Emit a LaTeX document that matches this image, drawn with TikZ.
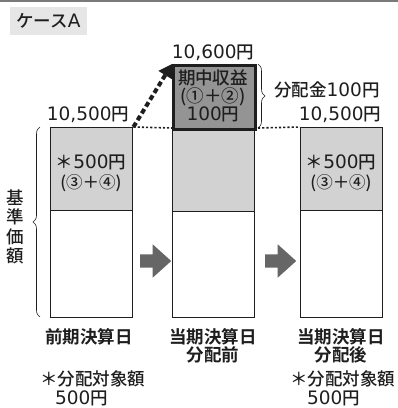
\documentclass[tikz,border=0pt]{standalone}
\usepackage{fontspec}
\setmainfont{Noto Sans CJK JP}[UprightFont=* Medium, BoldFont=* Bold]
\newfontfamily\numfont{DejaVu Sans}
\newcommand\dg[1]{{\numfont\fontsize{18.5}{18}\selectfont #1}}
\usetikzlibrary{arrows.meta,decorations.pathreplacing,shapes.arrows}
\definecolor{lightfill}{HTML}{D2D2D2}
\definecolor{darkfill}{HTML}{949494}
\definecolor{arrowgray}{HTML}{666666}
\definecolor{tagfill}{HTML}{E6E6E6}
\definecolor{rulegray}{HTML}{7A7A7A}
\definecolor{ink}{HTML}{1E1E1E}
\tikzset{
  colbox/.style={draw=ink, line width=1.4pt, minimum width=82pt, inner sep=0pt, anchor=north west},
  txt/.style={font=\fontsize{17.5}{18}\selectfont, text=ink, inner sep=0pt, align=center},
  smalltxt/.style={font=\fontsize{16.5}{18}\selectfont, text=ink, inner sep=0pt, align=center},
  boldtxt/.style={font=\fontsize{17.5}{18}\selectfont\bfseries, text=ink, inner sep=0pt, align=center},
  stepto/.style={single arrow, fill=arrowgray, draw=none, inner sep=6.5pt,
    minimum height=31pt, single arrow head extend=10pt, single arrow tip angle=84},
  dotline/.style={ink, line width=1.6pt, dash pattern=on 2.2pt off 2pt},
  bracebar/.style={ink, line width=0.6pt, decorate, decoration={brace, amplitude=7pt}},
}
\begin{document}
\begin{tikzpicture}[x=1pt, y=-1pt]
\useasboundingbox (0,0) rectangle (398,408);
\draw[rulegray, line width=1.5pt] (0,1) -- (398,1);
\node[txt, fill=tagfill, minimum width=77pt, minimum height=28pt] (tag) at (48.5,21) {ケース\dg{A}};
% columns
\node[colbox, fill=lightfill, minimum height=83pt] (prevTop) at (50,127) {};
\node[colbox, fill=white, minimum height=107pt] (prevBot) at (50,210) {};
\node[colbox, fill=lightfill, minimum height=83pt] (midTop) at (172,128) {};
\node[colbox, fill=white, minimum height=106pt] (midBot) at (172,211) {};
\node[colbox, fill=darkfill, line width=2.6pt, minimum height=64pt] (midInc) at (172,64) {};
\node[colbox, fill=lightfill, minimum height=83pt] (postTop) at (300,127) {};
\node[colbox, fill=white, minimum height=107pt] (postBot) at (300,210) {};
% values
\node[txt] (prevVal) at (88,115) {\dg{10,500}円};
\node[txt] (midVal) at (213,53) {\dg{10,600}円};
\node[txt] (postVal) at (340,115) {\dg{10,500}円};
\node[txt] (prevAmt) at (91,162) {＊\dg{500}円};
\node[smalltxt] (prevSum) at (91,183) {(③＋④)};
\node[txt] (postAmt) at (341,162) {＊\dg{500}円};
\node[smalltxt] (postSum) at (341,183) {(③＋④)};
\node[txt] (incText) at (213,96) {期中収益\\(①＋②)\\\dg{100}円};
% links
\coordinate (braceTop) at (258,64);
\coordinate (braceBot) at (258,128);
\draw[bracebar] (braceTop) -- (braceBot);
\node[txt, anchor=west] (payout) at (274,90) {分配金\dg{100}円};
\draw[dotline] (prevTop.north east) -- (midTop.north west);
\draw[dotline] (braceBot) -- (postTop.north west);
\draw[ink, line width=4pt, dash pattern=on 5pt off 3pt, -{Triangle[length=13pt, width=15pt]}]
  (prevTop.north east) -- (midInc.north west);
% base price
\coordinate (baseBot) at (40,317);
\coordinate (baseTop) at (40,127);
\draw[bracebar] (baseBot) -- (baseTop);
\node[txt, font=\fontsize{17.5}{19.3}\selectfont] (baseLbl) at (15,227) {基\\準\\価\\額};
% steps
\node[stepto] (stepA) at (152,261) {};
\node[stepto] (stepB) at (277,261) {};
% dates
\node[boldtxt] (prevDay) at (89,337) {前期決算日};
\node[boldtxt] (midDay) at (213,346) {当期決算日\\分配前};
\node[boldtxt] (postDay) at (341,346) {当期決算日\\分配後};
\node[txt, anchor=west] (prevNote) at (40,379) {＊分配対象額};
\node[txt, anchor=west] (prevNoteAmt) at (55,398.5) {\dg{500}円};
\node[txt, anchor=west] (postNote) at (290,379) {＊分配対象額};
\node[txt, anchor=west] (postNoteAmt) at (307,398.5) {\dg{500}円};
\end{tikzpicture}
\end{document}
